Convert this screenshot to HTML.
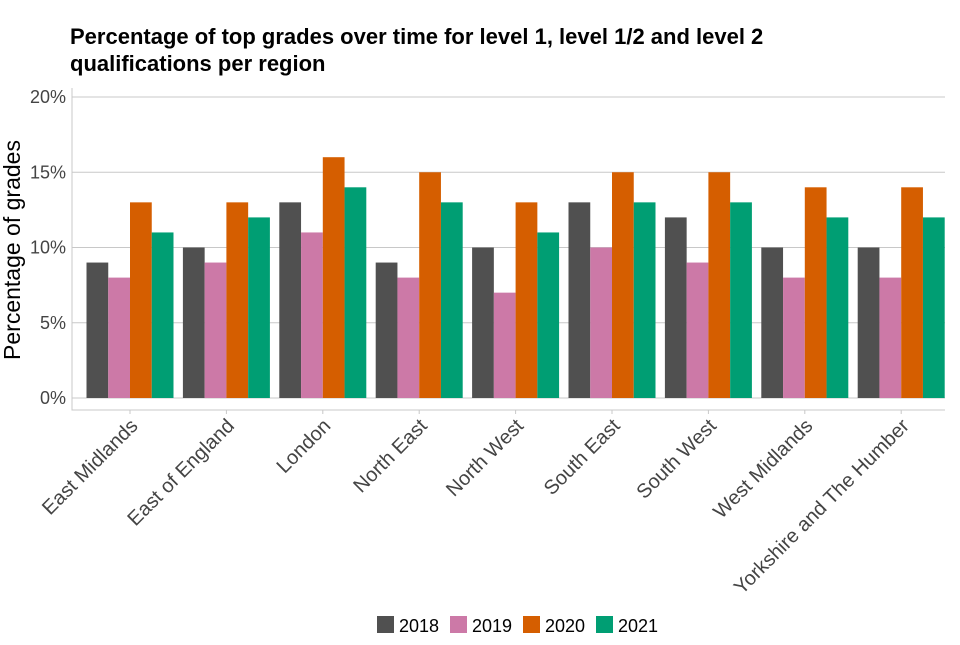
<!DOCTYPE html>
<html><head><meta charset="utf-8"><style>
body{margin:0;background:#fff;width:960px;height:640px;overflow:hidden;font-family:"Liberation Sans",sans-serif}
</style></head><body>
<svg id="chart" width="960" height="640" xmlns="http://www.w3.org/2000/svg" font-family="Liberation Sans, sans-serif">
<text x="70" y="44" font-size="22" font-weight="bold" fill="#000">Percentage of top grades over time for level 1, level 1/2 and level 2</text>
<text x="70" y="71" font-size="22" font-weight="bold" fill="#000">qualifications per region</text>
<text transform="translate(20,250) rotate(-90)" text-anchor="middle" font-size="23" fill="#000">Percentage of grades</text>
<g id="grid"></g><g id="bars"></g><g id="xlabels"></g><g id="legend"></g>
</svg>
<script>
const categories=["East Midlands","East of England","London","North East","North West","South East","South West","West Midlands","Yorkshire and The Humber"];
const years=["2018","2019","2020","2021"];
const s2018=[9,10,13,9,10,13,12,10,10];
const s2019=[8,9,11,8,7,10,9,8,8];
const s2020=[13,13,16,15,13,15,15,14,14];
const s2021=[11,12,14,13,11,13,13,12,12];
const yTicks=[0,5,10,15,20];
const series=[s2018,s2019,s2020,s2021];
const colors=["#505050","#cc79a7","#d55e00","#009e73"];
const NS="http://www.w3.org/2000/svg";
const L=72,R=945,Y0=398,Y20=97;
const y=v=>Y0+(Y20-Y0)*v/20;
const band=96.4;
const xc=i=>130+band*i;
function mk(t,a,p){const e=document.createElementNS(NS,t);for(const k in a)e.setAttribute(k,a[k]);p.appendChild(e);return e;}
const g=document.getElementById('grid');
yTicks.forEach(v=>{
 const l=mk('line',{x1:L,x2:R,y1:y(v),y2:y(v),stroke:'#c8c8c8','stroke-width':1},g);
 
 
 const t=mk('text',{x:66,y:y(v)+6,'text-anchor':'end','font-size':18,fill:'#444'},g);
 t.textContent=v+'%';
 
 
});
const ax=mk('path',{d:`M${L},88V410H${R}`,stroke:'#c8c8c8',fill:'none'},g);


const b=document.getElementById('bars');
const gw=87,bw=gw/4;
categories.forEach((c,i)=>{
 series.forEach((s,j)=>{
  const x0=xc(i)-gw/2+j*bw;
  const r=mk('rect',{x:x0,y:y(s[i]),width:bw,height:Y0-y(s[i]),fill:colors[j]},b);
  
  
 });
 const xl=document.getElementById('xlabels');
 const tk=mk('line',{x1:xc(i),x2:xc(i),y1:410,y2:414,stroke:'#c8c8c8'},xl);
 
 
 const t=mk('text',{transform:`translate(${xc(i)+9},${427}) rotate(-45)`,'text-anchor':'end','font-size':20,fill:'#444'},xl);
 t.textContent=c;
 
 
});
const lg=document.getElementById('legend');
let lx=377;
years.forEach((yr,j)=>{
 const r=mk('rect',{x:lx,y:616,width:17,height:17,fill:colors[j]},lg);
 
 
 const t=mk('text',{x:lx+22,y:632,'font-size':18,fill:'#000'},lg);
 t.textContent=yr;
 
 
 lx+=73;
});
</script>
</body></html>
